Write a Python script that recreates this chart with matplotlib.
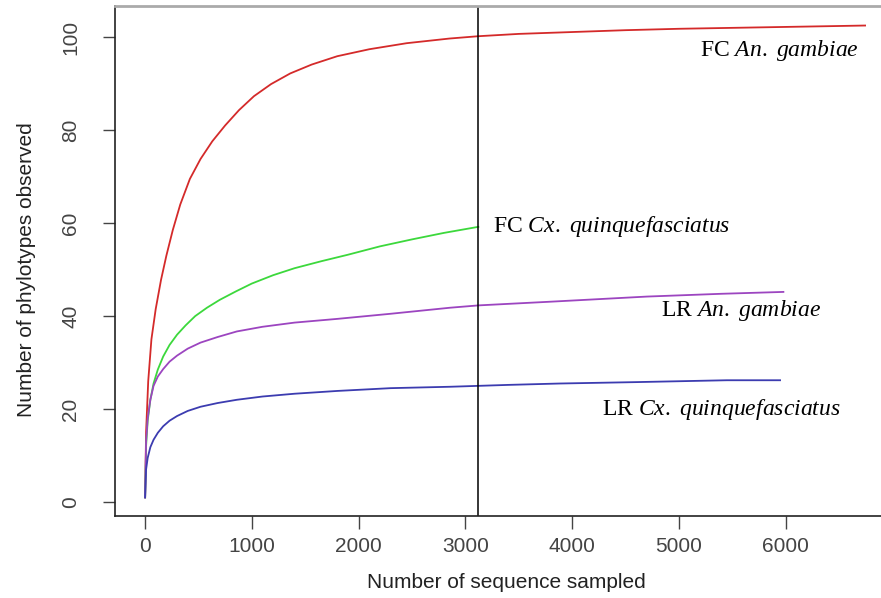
import matplotlib
matplotlib.use("Agg")
import matplotlib.pyplot as plt

plt.rcParams['font.family'] = ['Liberation Sans', 'DejaVu Sans']
plt.rcParams['mathtext.fontset'] = 'custom'
plt.rcParams['mathtext.rm'] = 'Liberation Serif'
plt.rcParams['mathtext.it'] = 'Liberation Serif:italic'

# ---- data ----
fc_an_x = [1, 10, 30, 60, 100, 150, 200, 260, 330, 420, 520, 630, 750, 880, 1020,
           1180, 1360, 1560, 1800, 2100, 2450, 2850, 3120, 3500, 4000, 4500, 5000,
           5500, 6000, 6500, 6742]
fc_an_y = [1, 15, 26, 35, 41.5, 47.8, 53, 58.5, 64, 69.5, 73.8, 77.6, 81, 84.3, 87.3,
           89.9, 92.2, 94.1, 95.9, 97.4, 98.7, 99.7, 100.2, 100.7, 101.1, 101.5, 101.8,
           102, 102.2, 102.4, 102.5]

fc_cx_x = [1, 10, 25, 50, 80, 120, 170, 230, 300, 380, 470, 580, 700, 850, 1000,
           1200, 1400, 1650, 1900, 2200, 2500, 2800, 3121]
fc_cx_y = [1, 12, 17.5, 22, 25.5, 28.5, 31.3, 33.8, 36, 38, 40, 41.8, 43.5, 45.3, 47,
           48.8, 50.3, 51.8, 53.2, 55, 56.5, 57.9, 59.2]

lr_an_x = [1, 10, 25, 50, 80, 120, 170, 230, 300, 400, 520, 680, 860, 1100, 1400,
           1800, 2300, 2856, 3121, 3800, 4700, 5400, 5977]
lr_an_y = [1, 13, 18, 22, 25, 27, 28.6, 30.2, 31.5, 33.0, 34.3, 35.5, 36.7, 37.7, 38.6,
           39.4, 40.5, 41.8, 42.3, 43.1, 44.2, 44.8, 45.2]

lr_cx_x = [1, 10, 25, 50, 80, 120, 170, 230, 300, 400, 520, 680, 860, 1100, 1400,
           1800, 2300, 2856, 3400, 3886, 4600, 5447, 5946]
lr_cx_y = [1, 7, 9.5, 11.8, 13.4, 14.9, 16.3, 17.5, 18.5, 19.6, 20.5, 21.3, 22, 22.7, 23.3,
           23.9, 24.5, 24.8, 25.2, 25.5, 25.8, 26.2, 26.2]

cutoff_x = 3115

x_ticks = [0, 1000, 2000, 3000, 4000, 5000, 6000]
y_ticks = [0, 20, 40, 60, 80, 100]

labels = [r"FC $\mathit{An.\ gambiae}$", r"FC $\mathit{Cx.\ quinquefasciatus}$",
          r"LR $\mathit{An.\ gambiae}$", r"LR $\mathit{Cx.\ quinquefasciatus}$"]
label_pos = [(5197, 97.2), (3256, 59.2), (4829, 41.3), (4276, 19.9)]

# ---- figure ----
fig = plt.figure(figsize=(8.81, 5.98), dpi=100)
ax = fig.add_axes([115/881, (598-516)/598, (881-115)/881, 510/598])

ax.plot(fc_an_x, fc_an_y, color='#d42a2a', lw=1.3)
ax.plot(fc_cx_x, fc_cx_y, color='#3cd83c', lw=1.3)
ax.plot(lr_an_x, lr_an_y, color='#9c45c0', lw=1.3)
ax.plot(lr_cx_x, lr_cx_y, color='#3c3cb0', lw=1.3)
ax.axvline(cutoff_x, color='black', lw=1.1)

for txt, (xx, yy) in zip(labels, label_pos):
    ax.text(xx, yy, txt, fontsize=17, ha='left', va='center', color='black',
            family='Liberation Serif')

ax.set_xlim(-281, 6891)
ax.set_ylim(-3.0, 106.7)
ax.set_xticks(x_ticks)
ax.set_yticks(y_ticks)
ax.set_yticklabels([str(v) for v in y_ticks], rotation=90, va='center')

ax.tick_params(axis='both', direction='out', length=9, width=1, colors='#444444', labelsize=15)
ax.tick_params(axis='x', pad=6)
ax.tick_params(axis='y', pad=16)

for s in ['left', 'bottom']:
    ax.spines[s].set_color('#222222')
    ax.spines[s].set_linewidth(1.2)
ax.spines['top'].set_color('#aaaaaa')
ax.spines['top'].set_linewidth(2)
ax.spines['right'].set_visible(False)

ax.set_xlabel('Number of sequence sampled', fontsize=15, color='#222222')
ax.set_ylabel('Number of phylotypes observed', fontsize=15, color='#222222')
ax.xaxis.label.set_va('center')
ax.yaxis.label.set_va('center')
ax.xaxis.set_label_coords((506-115)/766, (516-582)/510)
ax.yaxis.set_label_coords((27-115)/766, (516-270)/510)

fig.savefig('out.png', dpi=100)
